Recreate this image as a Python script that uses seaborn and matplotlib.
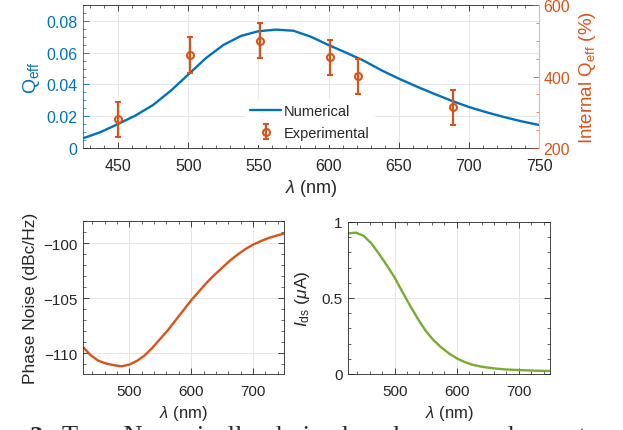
import numpy as np
import pandas as pd
import matplotlib
matplotlib.use('Agg')
import matplotlib.pyplot as plt
import seaborn as sns
from matplotlib.ticker import MultipleLocator

# ---- data (every 12.5 nm)
lam = [425, 437.5, 450, 462.5, 475, 487.5, 500, 512.5, 525, 537.5, 550, 562.5, 575, 587.5,
       600, 612.5, 625, 637.5, 650, 662.5, 675, 687.5, 700, 712.5, 725, 737.5, 750]
q_num = [0.0061, 0.0100, 0.0151, 0.0205, 0.0271, 0.0360, 0.0462, 0.0565, 0.0648, 0.0705,
         0.0735, 0.0745, 0.0738, 0.0700, 0.0648, 0.0600, 0.0550, 0.0490, 0.0437, 0.0388,
         0.0342, 0.0298, 0.0258, 0.0225, 0.0195, 0.0168, 0.0145]
phase_noise = [-109.45, -110.2, -110.7, -110.95, -111.1, -111.2, -111.05, -110.7, -110.2, -109.5,
               -108.7, -107.9, -107.0, -106.1, -105.2, -104.4, -103.6, -102.9, -102.25, -101.6,
               -101.05, -100.55, -100.15, -99.83, -99.55, -99.33, -99.15]
i_ds = [0.925, 0.93, 0.91, 0.86, 0.79, 0.715, 0.635, 0.54, 0.449, 0.362, 0.284, 0.223, 0.175, 0.135,
        0.103, 0.079, 0.061, 0.050, 0.042, 0.036, 0.031, 0.028, 0.026, 0.024, 0.022, 0.021, 0.020]

lam_exp = [450, 501, 551, 601, 621, 689]
q_exp = [0.0180, 0.0585, 0.0675, 0.0571, 0.0452, 0.0256]
q_err = [0.0112, 0.0112, 0.0110, 0.0110, 0.0110, 0.0110]

BLUE = '#0072BD'
ORANGE = '#D95319'
GREEN = '#77AC30'
DARK = '#262626'
GRID = '#e6e6e6'

sns.set_style('ticks')
plt.rcParams['font.family'] = ['Liberation Sans', 'DejaVu Sans']
plt.rcParams['mathtext.fontset'] = 'custom'
plt.rcParams['mathtext.rm'] = 'Liberation Sans'
plt.rcParams['mathtext.it'] = 'Liberation Sans:italic'

df = pd.DataFrame({'lam': lam, 'q': q_num, 'pn': phase_noise, 'ids': i_ds})

fig = plt.figure(figsize=(6.23, 4.31), dpi=100)
W, H = 623, 431

def box(x0, y0, x1, y1):
    return [x0 / W, 1 - y1 / H, (x1 - x0) / W, (y1 - y0) / H]

def style_ax(ax, size):
    ax.tick_params(which='both', direction='in', top=True, labelsize=size, colors=DARK)
    ax.tick_params(which='major', length=4, width=0.6)
    ax.tick_params(which='minor', length=2, width=0.5)
    ax.tick_params(axis='x', pad=7)
    ax.tick_params(axis='y', pad=4)
    for s in ax.spines.values():
        s.set_color(DARK)
        s.set_linewidth(0.6)
    ax.grid(True, which='major', color=GRID, linewidth=0.7)
    ax.set_axisbelow(True)

# ---------------- top panel
ax = fig.add_axes(box(83, 6, 539, 149))
style_ax(ax, 11.5)
sns.lineplot(data=df, x='lam', y='q', ax=ax, color=BLUE, linewidth=1.7, label='Numerical')
ax.errorbar(lam_exp, q_exp, yerr=q_err, fmt='o', color=ORANGE, markersize=5, markerfacecolor='none',
            markeredgewidth=1.5, elinewidth=1.6, capsize=2.5, capthick=1.5, label='Experimental', zorder=5)
ax.set_xlim(425, 750)
ax.set_ylim(0, 0.09)
ax.set_xticks([450, 500, 550, 600, 650, 700, 750])
ax.set_yticks([0, 0.02, 0.04, 0.06, 0.08])
ax.set_yticklabels(['0', '0.02', '0.04', '0.06', '0.08'])
ax.xaxis.set_minor_locator(MultipleLocator(10))
ax.yaxis.set_minor_locator(MultipleLocator(0.005))
ax.tick_params(axis='y', which='both', right=False, colors=BLUE, labelcolor=BLUE)
ax.spines['left'].set_color(BLUE)
ax.spines['right'].set_visible(False)
ax.set_xlabel(r'$\lambda$ (nm)', fontsize=13, color=DARK, labelpad=3)
ax.set_ylabel(r'Q$_{\rm eff}$', fontsize=14, color=BLUE, labelpad=3)
leg = ax.legend(loc='lower left', bbox_to_anchor=(0.34, -0.03), frameon=True, fontsize=10.5,
                handlelength=2.1, handletextpad=0.2, borderpad=0.35, labelspacing=0.55)
leg.get_frame().set_edgecolor('none')
leg.get_frame().set_facecolor('white')
leg.get_frame().set_alpha(1)

ax2 = ax.twinx()
ax2.set_ylim(200, 600)
ax2.set_yticks([200, 400, 600])
ax2.yaxis.set_minor_locator(MultipleLocator(50))
ax2.tick_params(which='both', direction='in', labelsize=11.5, colors=ORANGE, labelcolor=ORANGE, pad=3)
ax2.tick_params(which='major', length=4, width=0.6)
ax2.tick_params(which='minor', length=2, width=0.5)
for s in ['top', 'bottom', 'left']:
    ax2.spines[s].set_visible(False)
ax2.spines['right'].set_color('#eeb39a')
ax2.spines['right'].set_linewidth(0.8)
ax2.set_ylabel(r'Internal Q$_{\rm eff}$ (%)', fontsize=13.5, color=ORANGE, labelpad=5)

# ---------------- bottom left: phase noise
ax3 = fig.add_axes(box(83, 222, 284, 375))
style_ax(ax3, 11)
sns.lineplot(data=df, x='lam', y='pn', ax=ax3, color=ORANGE, linewidth=1.7)
ax3.set_xlim(425, 750)
ax3.set_ylim(-111.9, -98.0)
ax3.set_xticks([500, 600, 700])
ax3.set_yticks([-110, -105, -100])
ax3.set_yticklabels(['\u2212110', '\u2212105', '\u2212100'])
ax3.xaxis.set_minor_locator(MultipleLocator(20))
ax3.yaxis.set_minor_locator(MultipleLocator(1))
ax3.tick_params(which='both', right=True)
ax3.set_xlabel(r'$\lambda$ (nm)', fontsize=12, color=DARK, labelpad=4)
ax3.set_ylabel('Phase Noise (dBc/Hz)', fontsize=12.5, color=DARK, labelpad=4)

# ---------------- bottom right: I_ds
ax4 = fig.add_axes(box(348, 223, 550, 375))
style_ax(ax4, 11)
sns.lineplot(data=df, x='lam', y='ids', ax=ax4, color=GREEN, linewidth=1.7)
ax4.set_xlim(425, 750)
ax4.set_ylim(0, 1)
ax4.set_xticks([500, 600, 700])
ax4.set_yticks([0, 0.5, 1])
ax4.set_yticklabels(['0', '0.5', '1'])
ax4.xaxis.set_minor_locator(MultipleLocator(20))
ax4.yaxis.set_minor_locator(MultipleLocator(0.1))
ax4.tick_params(which='both', right=True)
ax4.set_xlabel(r'$\lambda$ (nm)', fontsize=12, color=DARK, labelpad=4)
ax4.set_ylabel(r'$I_{\rm ds}$ ($\mu$A)', fontsize=12.5, color=DARK, labelpad=7)

# clipped caption at the bottom edge
fig.text(30 / W, -13 / H, '2:', fontsize=19, family='Liberation Serif', weight='bold', va='baseline')
fig.text(62 / W, -13 / H, 'Top:  Numerically  derived  and  measured  quantum  efficiency  (b',
         fontsize=19, family='Liberation Serif', va='baseline')

fig.savefig('out.png', dpi=100)
